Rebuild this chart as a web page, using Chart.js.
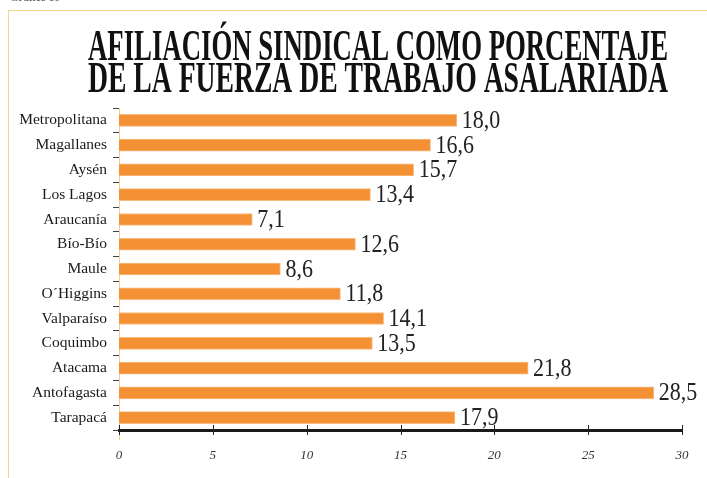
<!DOCTYPE html>
<html>
<head>
<meta charset="utf-8">
<style>
  html, body { margin: 0; padding: 0; background: #fff; }
  #grafico { display: block; }
</style>
</head>
<body>
<canvas id="grafico" width="707" height="478"></canvas>
<script src="https://cdn.jsdelivr.net/npm/chart.js"></script>
<script>
    // Datos
    const regiones = ['Metropolitana', 'Magallanes', 'Aysén', 'Los Lagos', 'Araucanía', 'Bío-Bío',
        'Maule', 'O´Higgins', 'Valparaíso', 'Coquimbo', 'Atacama', 'Antofagasta', 'Tarapacá'];
    const afiliacion = [18.0, 16.6, 15.7, 13.4, 7.1, 12.6, 8.6, 11.8, 14.1, 13.5, 21.8, 28.5, 17.9];
    const ticksX = [0, 5, 10, 15, 20, 25, 30];
    const titulo = ['AFILIACIÓN SINDICAL COMO PORCENTAJE', 'DE LA FUERZA DE TRABAJO ASALARIADA'];

    const serif = '"Liberation Serif", "DejaVu Serif", serif';

    // Marco, título y etiqueta superior
    const marcoTitulo = {
        id: 'marcoTitulo',
        beforeDraw(chart) {
            const ctx = chart.ctx;
            ctx.save();
            ctx.strokeStyle = '#F3D58C';
            ctx.lineWidth = 1;
            ctx.strokeRect(8.5, 10.5, 760, 520);
            ctx.fillStyle = '#666';
            ctx.font = 'bold 11px ' + serif;
            ctx.textBaseline = 'bottom';
            ctx.fillText('Gráfico 10', 10, 4);

            ctx.fillStyle = '#111';
            ctx.font = 'bold 44px ' + serif;
            ctx.textBaseline = 'alphabetic';
            ctx.textAlign = 'center';
            const bases = [60, 92];
            titulo.forEach((linea, i) => {
                const ancho = ctx.measureText(linea).width;
                ctx.save();
                ctx.translate(378, bases[i]);
                ctx.scale(580 / ancho, 1);
                ctx.fillText(linea, 0, 0);
                ctx.restore();
            });
            ctx.restore();
        }
    };

    // Valores al final de cada barra y marcas del eje X
    const etiquetas = {
        id: 'etiquetas',
        afterDatasetsDraw(chart) {
            const ctx = chart.ctx;
            const meta = chart.getDatasetMeta(0);
            const area = chart.chartArea;
            ctx.save();
            ctx.fillStyle = '#222';
            ctx.font = '25px ' + serif;
            ctx.textBaseline = 'middle';
            meta.data.forEach((barra, i) => {
                const txt = afiliacion[i].toFixed(1).replace('.', ',');
                ctx.save();
                ctx.translate(barra.x + 5, barra.y + 1);
                ctx.scale(0.88, 1);
                ctx.fillText(txt, 0, 0);
                ctx.restore();
            });
            // prolongación del eje Y bajo el eje X
            ctx.strokeStyle = '#F3D08A';
            ctx.beginPath();
            ctx.moveTo(area.left + 0.5, area.bottom);
            ctx.lineTo(area.left + 0.5, area.bottom + 10);
            ctx.stroke();

            const x = chart.scales.x;
            ctx.strokeStyle = '#222';
            ctx.lineWidth = 1;
            ticksX.forEach(v => {
                const px = Math.round(x.getPixelForValue(v)) + 0.5;
                ctx.beginPath();
                ctx.moveTo(px, area.bottom - 5);
                ctx.lineTo(px, area.bottom + 5);
                ctx.stroke();
            });
            ctx.restore();
        }
    };

    function crearGrafico() {
        const ctx = document.getElementById('grafico').getContext('2d');
        new Chart(ctx, {
            type: 'bar',
            data: {
                labels: regiones,
                datasets: [{
                    data: afiliacion,
                    backgroundColor: '#F39134',
                    borderColor: '#F8BC80',
                    borderWidth: 1,
                    barThickness: 12
                }]
            },
            options: {
                indexAxis: 'y',
                responsive: false,
                animation: false,
                layout: { padding: { top: 108, left: 8, right: 25, bottom: 0 } },
                plugins: {
                    legend: { display: false },
                    tooltip: { enabled: false }
                },
                scales: {
                    x: {
                        min: 0,
                        max: 30,
                        afterBuildTicks: (s) => { s.ticks = ticksX.map(v => ({ value: v })); },
                        grid: { display: false, drawTicks: false },
                        border: { display: true, color: '#1a1a1a', width: 3 },
                        ticks: {
                            padding: 18,
                            color: '#333',
                            font: { family: serif, size: 13, style: 'italic' }
                        },
                        afterFit: (s) => { s.height = 48; }
                    },
                    y: {
                        grid: {
                            offset: true,
                            drawOnChartArea: false,
                            tickLength: 6,
                            color: '#444'
                        },
                        border: { display: true, color: '#F3D08A', width: 1 },
                        ticks: {
                            padding: 6,
                            color: '#1a1a1a',
                            font: { family: serif, size: 15.5 }
                        },
                        afterFit: (s) => { s.width = 111; }
                    }
                }
            },
            plugins: [marcoTitulo, etiquetas]
        });
    }

    crearGrafico();
</script>
</body>
</html>
